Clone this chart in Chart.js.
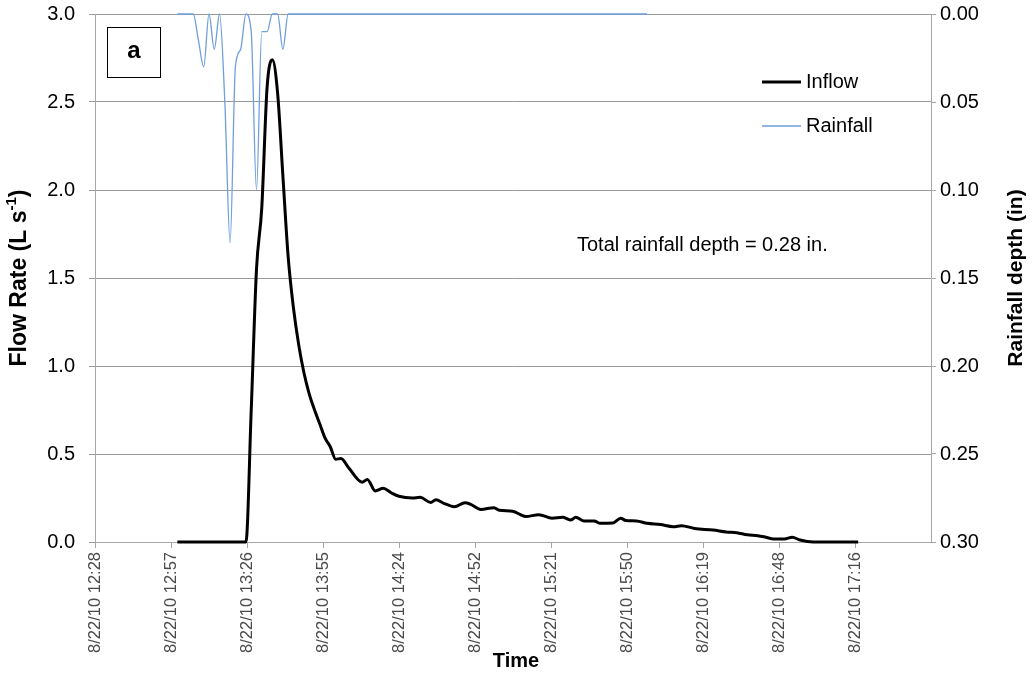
<!DOCTYPE html>
<html>
<head>
<meta charset="utf-8">
<title>Inflow and rainfall</title>
<script src="https://cdn.jsdelivr.net/npm/chart.js@4/dist/chart.umd.min.js"></script>
<style>
    body { margin: 0; background: #fff; }
    canvas { display: block; }
</style>
</head>
<body>
<canvas id="chart" width="1032" height="674"></canvas>
<script>
// Tiempo en minutos desde medianoche (8/22/10)
const xTickMinutes = [748.8, 777.6, 806.4, 835.2, 864, 892.8, 921.6, 950.4, 979.2, 1008, 1036.8];
const xTickLabels = ['8/22/10 12:28', '8/22/10 12:57', '8/22/10 13:26', '8/22/10 13:55', '8/22/10 14:24',
    '8/22/10 14:52', '8/22/10 15:21', '8/22/10 15:50', '8/22/10 16:19', '8/22/10 16:48', '8/22/10 17:16'];

// Caudal de entrada (L/s)
const inflowMinutes = [780, 806, 808, 810, 812, 814, 816, 818, 820, 822,
    824, 826, 828, 830, 832, 834, 836, 838, 840, 842,
    845, 850, 852, 855, 858, 861, 864, 869, 872, 876,
    878, 881, 885, 889, 891, 895, 900, 902, 907, 912,
    917, 922, 926, 929, 931, 934, 938, 940, 945, 948,
    950, 954, 958, 963, 968, 971, 976, 983, 988, 992,
    996, 1000, 1003, 1006, 1010, 1013, 1016, 1021, 1038];
const inflowRate = [0, 0, 0.75, 1.55, 1.9, 2.58, 2.74, 2.55, 2.08, 1.62,
    1.33, 1.12, 0.96, 0.84, 0.75, 0.67, 0.59, 0.54, 0.47, 0.475,
    0.42, 0.34, 0.355, 0.29, 0.305, 0.28, 0.26, 0.25, 0.254, 0.225,
    0.24, 0.22, 0.2, 0.223, 0.215, 0.185, 0.195, 0.18, 0.175, 0.145,
    0.155, 0.135, 0.14, 0.125, 0.14, 0.12, 0.12, 0.107, 0.108, 0.135,
    0.122, 0.12, 0.106, 0.099, 0.087, 0.093, 0.077, 0.068, 0.057, 0.053,
    0.041, 0.036, 0.027, 0.017, 0.017, 0.027, 0.011, 0, 0];

// Lluvia (in), eje invertido
const rainMinutes = [780, 786, 788, 790, 792, 794, 796, 798, 800, 802, 804,
    806, 808, 810, 812, 814, 816, 818, 820, 822, 958];
const rainDepth = [0, 0, 0.015, 0.03, 0, 0.02, 0, 0.05, 0.13, 0.03, 0.02,
    0, 0.01, 0.10, 0.01, 0.01, 0, 0, 0.02, 0, 0];

const totalRainText = 'Total rainfall depth = 0.28 in.';
const FONT = "'Liberation Sans', Arial, sans-serif";

Chart.defaults.font.family = FONT;

function toPoints(xs, ys) {
    return xs.map((x, i) => ({ x: x, y: ys[i] }));
}

// Ancho fijo de los ejes verticales, sin relleno extra arriba/abajo
function fixVertical(width) {
    return function(scale) {
        scale.width = width;
        scale.paddingTop = 0;
        scale.paddingBottom = 0;
    };
}

// Títulos de ejes, leyenda y anotaciones
const decorPlugin = {
    id: 'decor',
    afterDraw(chart) {
        const ctx = chart.ctx;
        const area = chart.chartArea;
        const midY = (area.top + area.bottom) / 2;
        ctx.save();
        ctx.fillStyle = '#000';

        // Caja "a"
        ctx.strokeStyle = '#000';
        ctx.lineWidth = 1;
        ctx.strokeRect(107.5, 27.5, 53, 50);
        ctx.font = 'bold 24px ' + FONT;
        ctx.textAlign = 'center';
        ctx.textBaseline = 'middle';
        ctx.fillText('a', 134, 51);

        // Leyenda
        const items = [
            { ds: chart.data.datasets[0], y: 82 },
            { ds: chart.data.datasets[1], y: 126 }
        ];
        ctx.font = '20px ' + FONT;
        ctx.textAlign = 'left';
        items.forEach(it => {
            ctx.strokeStyle = it.ds.borderColor;
            ctx.lineWidth = it.ds.borderWidth;
            ctx.beginPath();
            ctx.moveTo(762, it.y);
            ctx.lineTo(801, it.y);
            ctx.stroke();
            ctx.fillText(it.ds.label, 806, it.y);
        });

        // Texto total de lluvia
        ctx.fillText(totalRainText, 577, 245);

        // Título eje X
        ctx.font = 'bold 20px ' + FONT;
        ctx.textAlign = 'center';
        ctx.fillText('Time', 516, 661);

        // Título eje Y izquierdo con superíndice
        ctx.save();
        ctx.translate(20, midY);
        ctx.rotate(-Math.PI / 2);
        const big = 'bold 23px ' + FONT, small = 'bold 15px ' + FONT;
        ctx.font = big;
        const w1 = ctx.measureText('Flow Rate (L s').width;
        const w3 = ctx.measureText(')').width;
        ctx.font = small;
        const w2 = ctx.measureText('-1').width;
        let x0 = -(w1 + w2 + w3) / 2;
        ctx.textAlign = 'left';
        ctx.font = big;
        ctx.fillText('Flow Rate (L s', x0, 0);
        ctx.font = small;
        ctx.fillText('-1', x0 + w1, -8);
        ctx.font = big;
        ctx.fillText(')', x0 + w1 + w2, 0);
        ctx.restore();

        // Título eje Y derecho
        ctx.save();
        ctx.translate(1016, midY);
        ctx.rotate(-Math.PI / 2);
        ctx.font = 'bold 21px ' + FONT;
        ctx.textAlign = 'center';
        ctx.fillText('Rainfall depth (in)', 0, 0);
        ctx.restore();

        ctx.restore();
    }
};

const ctx = document.getElementById('chart').getContext('2d');

new Chart(ctx, {
    type: 'line',
    data: {
        datasets: [{
            label: 'Inflow',
            data: toPoints(inflowMinutes, inflowRate),
            borderColor: '#000000',
            borderWidth: 3,
            pointRadius: 0,
            cubicInterpolationMode: 'monotone',
            yAxisID: 'y',
            clip: 3,
            order: 1
        }, {
            label: 'Rainfall',
            data: toPoints(rainMinutes, rainDepth),
            borderColor: '#6f9fdd',
            borderWidth: 1.3,
            pointRadius: 0,
            cubicInterpolationMode: 'monotone',
            yAxisID: 'y1',
            clip: 1,
            order: 2
        }]
    },
    options: {
        responsive: false,
        animation: false,
        devicePixelRatio: 1,
        layout: { padding: { top: 14, left: 0, right: 0, bottom: 0 } },
        plugins: {
            legend: { display: false },
            tooltip: { enabled: false }
        },
        scales: {
            x: {
                type: 'linear',
                position: 'bottom',
                min: 748.8,
                max: 1065.6,
                afterBuildTicks: function(scale) {
                    scale.ticks = xTickMinutes.map(v => ({ value: v }));
                },
                afterFit: function(scale) {
                    scale.height = 132;
                    scale.paddingLeft = 0;
                    scale.paddingRight = 0;
                },
                ticks: {
                    autoSkip: false,
                    minRotation: 90,
                    maxRotation: 90,
                    padding: 4,
                    color: '#4a4a4a',
                    font: { size: 16.5 },
                    callback: function(value, index) {
                        return xTickLabels[index];
                    }
                },
                grid: { drawOnChartArea: false, tickLength: 6, color: '#a6a6a6' },
                border: { color: '#a6a6a6', width: 1 }
            },
            y: {
                position: 'left',
                min: 0,
                max: 3,
                afterFit: fixVertical(95),
                ticks: {
                    stepSize: 0.5,
                    padding: 14,
                    color: '#000',
                    font: { size: 20 },
                    callback: function(value) {
                        return value.toFixed(1);
                    }
                },
                grid: { color: '#999999', tickLength: 6 },
                border: { color: '#a6a6a6', width: 1 }
            },
            y1: {
                position: 'right',
                min: 0,
                max: 0.3,
                reverse: true,
                afterFit: fixVertical(101),
                ticks: {
                    stepSize: 0.05,
                    padding: 4,
                    color: '#000',
                    font: { size: 20 },
                    callback: function(value) {
                        return value.toFixed(2);
                    }
                },
                grid: { drawOnChartArea: false, tickLength: 5, color: '#a6a6a6' },
                border: { color: '#a6a6a6', width: 1 }
            }
        }
    },
    plugins: [decorPlugin]
});
</script>
</body>
</html>
